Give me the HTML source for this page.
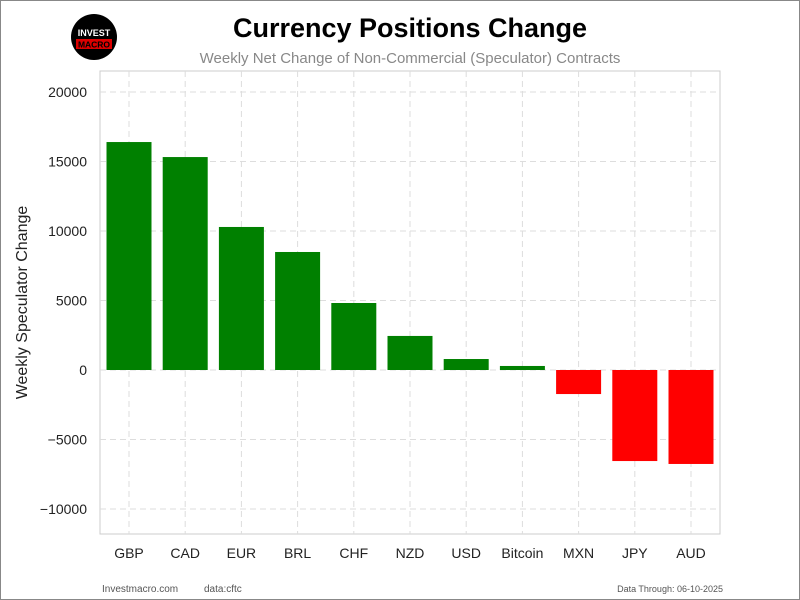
<!DOCTYPE html>
<html><head><meta charset="utf-8"><style>
body{margin:0;background:#fff;}
#wrap{position:relative;width:798px;height:598px;border:1px solid #888;background:#fff;font-family:"Liberation Sans",sans-serif;overflow:hidden;}
</style></head><body>
<div id="wrap">
<svg id="chart" width="798" height="598"></svg>
</div>
<script>
const categories=["GBP","CAD","EUR","BRL","CHF","NZD","USD","Bitcoin","MXN","JPY","AUD"];
const values=[16400,15320,10290,8490,4820,2450,790,290,-1730,-6550,-6760];
const yTicks=[-10000,-5000,0,5000,10000,15000,20000];
const yTickLabels=["\u221210000","\u22125000","0","5000","10000","15000","20000"];
const NS="http://www.w3.org/2000/svg";
const svg=document.getElementById('chart');
function mk(t,a,txt){const e=document.createElementNS(NS,t);for(const k in a)e.setAttribute(k,a[k]);if(txt!==undefined)e.textContent=txt;svg.appendChild(e);return e;}
const L=99,R=719,T=70,B=533;
function y(v){return 369-v*(278/20000);}
const step=56.2;
function x(i){return 128+i*step;}
let e;
e=mk('rect',{x:L,y:T,width:R-L,height:B-T,fill:'#fff',stroke:'#ccc','stroke-width':1});


yTicks.forEach((t,i)=>{
 e=mk('line',{x1:L,x2:R,y1:y(t),y2:y(t),stroke:'#ddd','stroke-dasharray':'6,4','stroke-width':1});
 
 
 e=mk('text',{x:L-13,y:y(t)+5,'text-anchor':'end','font-size':14,fill:'#222'},yTickLabels[i]);
 
 
});
categories.forEach((c,i)=>{
 e=mk('line',{x1:x(i),x2:x(i),y1:T,y2:B,stroke:'#ddd','stroke-dasharray':'6,4','stroke-width':1});
 
 
});
categories.forEach((c,i)=>{
 const v=values[i];const w=45;
 e=mk('rect',{x:x(i)-w/2,y:Math.min(y(v),y(0)),width:w,height:Math.abs(y(v)-y(0)),fill:v>=0?'#008000':'#ff0000'});
 
 
 e=mk('text',{x:x(i),y:B+24,'text-anchor':'middle','font-size':14,fill:'#222'},c);
 
 
});
e=mk('text',{x:26,y:(T+B)/2,'text-anchor':'middle','font-size':16,fill:'#222',transform:'rotate(-90 26 '+((T+B)/2)+')'},'Weekly Speculator Change');


e=mk('text',{x:409,y:36,'text-anchor':'middle','font-size':27,'font-weight':'bold',fill:'#000'},'Currency Positions Change');


e=mk('text',{x:409,y:62,'text-anchor':'middle','font-size':15,fill:'#888'},'Weekly Net Change of Non-Commercial (Speculator) Contracts');


e=mk('circle',{cx:93,cy:36,r:23,fill:'#000'});


e=mk('text',{x:93,y:35,'text-anchor':'middle','font-size':9,'font-weight':'bold',fill:'#fff'},'INVEST');


e=mk('rect',{x:75,y:38,width:36,height:10,fill:'#d00'});


e=mk('text',{x:93,y:46.5,'text-anchor':'middle','font-size':8.5,'font-weight':'bold',fill:'#000'},'MACRO');


e=mk('text',{x:101,y:591,'font-size':10,fill:'#555'},'Investmacro.com');


e=mk('text',{x:203,y:591,'font-size':10,fill:'#555'},'data:cftc');


e=mk('text',{x:722,y:591,'text-anchor':'end','font-size':9,fill:'#555'},'Data Through: 06-10-2025');


</script>
</body></html>
